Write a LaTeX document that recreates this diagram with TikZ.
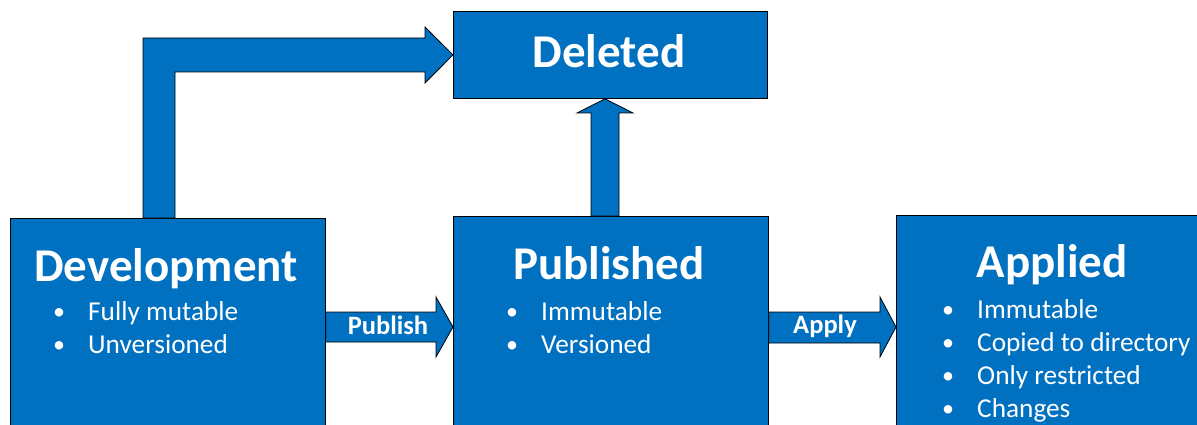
\documentclass[tikz,border=0pt]{standalone}
\usepackage{fontspec}
\setmainfont{Carlito}
\usetikzlibrary{calc,positioning}

\definecolor{stageblue}{HTML}{0070C0}

\tikzset{
	stage/.style={draw=black, fill=stageblue, line width=0.8pt, anchor=north west, inner sep=0pt},
	blockarrow/.style={draw=black, fill=stageblue, line width=0.8pt, line join=miter},
	title/.style={text=white, anchor=base, font=\fontsize{47}{50}\selectfont\bfseries},
	item/.style={text=white, anchor=base west, inner sep=0pt, font=\fontsize{27.3}{30}\selectfont},
	dot/.style={text=white, anchor=base, inner sep=0pt, font=\fontsize{24}{30}\selectfont},
	arrowlabel/.style={text=white, anchor=base, inner sep=0pt, font=\fontsize{26.5}{28}\selectfont\bfseries}
}

\begin{document}
\begin{tikzpicture}[x=1pt,y=-1pt]
	\useasboundingbox (0,0) rectangle (1197,425);
	\clip (0,0) rectangle (1197,425);

	%Stage boxes
	\node[stage, minimum width=315pt, minimum height=240pt] (dev) at (10,218) {};
	\node[stage, minimum width=315pt, minimum height=240pt] (pub) at (453,216) {};
	\node[stage, minimum width=330pt, minimum height=240pt] (app) at (896,215) {};
	\node[stage, minimum width=314pt, minimum height=87pt] (del) at (453,11) {};

	%Titles
	\node[title] (devtitle) at (166,281) {Development};
	\node[title] (pubtitle) at (609,279) {Published};
	\node[title] (apptitle) at (1052,277) {Applied};
	\node[title] (deltitle) at (609,68) {Deleted};

	%Bullet lists
	\foreach \txt [count=\i from 0] in {Fully mutable,Unversioned}{
		\node[dot] (devdot\i) at (59,319+33*\i) {\textbullet};
		\node[item] (devitem\i) at (88,320+33*\i) {\txt};
	}
	\foreach \txt [count=\i from 0] in {Immutable,Versioned}{
		\node[dot] (pubdot\i) at (512,319+33*\i) {\textbullet};
		\node[item] (pubitem\i) at (541,320+33*\i) {\txt};
	}
	\foreach \txt [count=\i from 0] in {Immutable,Copied to directory,Only restricted,Changes}{
		\node[dot] (appdot\i) at (948,317+33*\i) {\textbullet};
		\node[item] (appitem\i) at (977,318+33*\i) {\txt};
	}

	%Publish
	\draw[blockarrow] (dev.east |- 0,312) -- (436,312) -- (436,297) -- (pub.west |- 0,327)
		-- (436,357) -- (436,342) -- (dev.east |- 0,342) -- cycle;
	\node[arrowlabel] (publabel) at (388,334) {Publish};

	%Apply
	\draw[blockarrow] (pub.east |- 0,312) -- (880,312) -- (880,297) -- (app.west |- 0,327)
		-- (880,357) -- (880,343) -- (pub.east |- 0,343) -- cycle;
	\node[arrowlabel] (applabel) at (825,333) {Apply};

	%Published to Deleted
	\draw[blockarrow] (591,0 |- pub.north) -- (591,113) -- (577,113) -- (605,0 |- del.south)
		-- (633,113) -- (619,113) -- (619,0 |- pub.north) -- cycle;

	%Development to Deleted
	\draw[blockarrow] (143,0 |- dev.north) -- (143,38) -- (425,38) -- (425,27) -- (del.west)
		-- (425,83) -- (425,72) -- (175,72) -- (175,0 |- dev.north) -- cycle;
\end{tikzpicture}
\end{document}
